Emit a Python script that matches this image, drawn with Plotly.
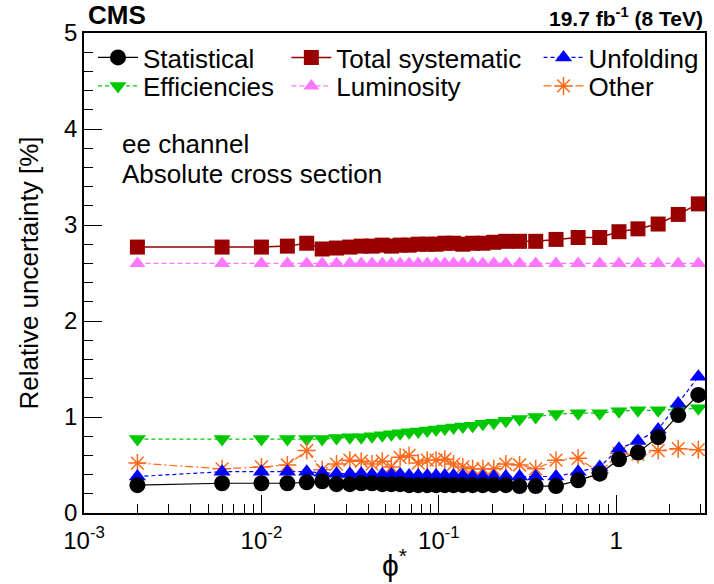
import plotly.graph_objects as go

# phi* bin centres
phistar = [0.002, 0.006, 0.010, 0.014, 0.018, 0.022, 0.0265, 0.0315, 0.0365, 0.042,
           0.048, 0.054, 0.0605, 0.068, 0.0765, 0.086, 0.0965, 0.108, 0.121, 0.1365,
           0.155, 0.177, 0.204, 0.2385, 0.285, 0.3515, 0.4575, 0.6095, 0.8065, 1.0355,
           1.3245, 1.7215, 2.2345, 2.8995]

# relative uncertainties [%]
statistical = [0.29, 0.31, 0.31, 0.31, 0.32, 0.33, 0.30, 0.30, 0.31, 0.31,
               0.30, 0.30, 0.30, 0.29, 0.29, 0.29, 0.29, 0.29, 0.29, 0.29,
               0.29, 0.29, 0.29, 0.29, 0.28, 0.28, 0.28, 0.34, 0.41, 0.56,
               0.63, 0.79, 1.02, 1.23]
total_syst = [2.77, 2.77, 2.77, 2.78, 2.81, 2.75, 2.76, 2.77, 2.78, 2.78,
              2.79, 2.78, 2.79, 2.79, 2.80, 2.80, 2.80, 2.81, 2.81, 2.80,
              2.81, 2.81, 2.82, 2.83, 2.83, 2.83, 2.85, 2.87, 2.87, 2.93,
              2.96, 3.01, 3.11, 3.22]
unfolding = [0.38, 0.43, 0.43, 0.43, 0.43, 0.42, 0.41, 0.41, 0.41, 0.40,
             0.40, 0.40, 0.40, 0.39, 0.39, 0.39, 0.39, 0.39, 0.39, 0.39,
             0.38, 0.38, 0.38, 0.38, 0.38, 0.38, 0.38, 0.43, 0.48, 0.67,
             0.75, 0.87, 1.14, 1.42]
efficiencies = [0.77, 0.77, 0.77, 0.77, 0.77, 0.77, 0.78, 0.79, 0.79, 0.80,
                0.81, 0.82, 0.83, 0.84, 0.85, 0.86, 0.87, 0.88, 0.89, 0.90,
                0.91, 0.93, 0.94, 0.96, 0.98, 1.00, 1.03, 1.04, 1.04, 1.06,
                1.07, 1.07, 1.08, 1.09]
luminosity = [2.6] * 34
other = [0.52, 0.46, 0.48, 0.50, 0.65, 0.45, 0.51, 0.55, 0.54, 0.51,
         0.54, 0.48, 0.58, 0.60, 0.52, 0.55, 0.55, 0.56, 0.51, 0.48,
         0.46, 0.46, 0.46, 0.51, 0.50, 0.46, 0.55, 0.57, 0.42, 0.62,
         0.61, 0.65, 0.67, 0.66]

xtick_vals = [0.001, 0.01, 0.1, 1]
xtick_text = ["10<sup>-3</sup>", "10<sup>-2</sup>", "10<sup>-1</sup>", "1"]

FONT = "Liberation Sans, Arial, Helvetica, sans-serif"

# (name, values, colour, dash, symbol, size, legend id)
series = [
    ("Total systematic", total_syst, "#990000", "solid", "square", 15, "legend2"),
    ("Luminosity", luminosity, "#FF77FF", "5px,3px", "triangle-up", 14, "legend5"),
    ("Efficiencies", efficiencies, "#00C800", "4px,3px", "triangle-down", 15, "legend4"),
    ("Other", other, "#FF6A1A", "8px,3px,2px,3px", "asterisk-open", 15, "legend6"),
    ("Unfolding", unfolding, "#0000FF", "4px,3px", "triangle-up", 15, "legend3"),
    ("Statistical", statistical, "#000000", "solid", "circle", 16, "legend"),
]

fig = go.Figure()
for name, vals, col, dash, sym, size, leg in series:
    marker = dict(symbol=sym, size=size, color=col)
    if sym == "asterisk-open":
        marker["line"] = dict(color=col, width=1.5)
    fig.add_trace(go.Scatter(
        x=phistar, y=vals, name=name, mode="lines+markers",
        line=dict(color=col, width=1.5 if name == "Total systematic" else 1.2, dash=dash),
        marker=marker, legend=leg,
    ))

W, H = 714, 584
ml, mr, mt, mb = 84, 7, 33, 62
pw, ph = W - ml - mr, H - mt - mb


def px(xp):
    return (xp - ml) / pw


def py(yp):
    return (H - mb - yp) / ph


leg_common = dict(font=dict(family=FONT, size=26, color="black"),
                  bgcolor="rgba(0,0,0,0)", itemwidth=40,
                  xanchor="left", yanchor="middle", orientation="h",
                  itemclick=False)
legends = {
    "legend": (93, 58), "legend2": (287, 58), "legend3": (540, 58),
    "legend4": (93, 87), "legend5": (287, 87), "legend6": (540, 87),
}
for key, (lx, ly) in legends.items():
    fig.update_layout({key: dict(leg_common, x=px(lx), y=py(ly))})

fig.update_layout(
    width=W, height=H,
    margin=dict(l=ml, r=mr, t=mt, b=mb),
    paper_bgcolor="white", plot_bgcolor="white",
    font=dict(family=FONT, color="black"),
    showlegend=True,
    xaxis=dict(
        type="log", range=[-3, 0.5], tickvals=xtick_vals, ticktext=xtick_text,
        ticks="inside", ticklen=18, tickwidth=1.2, tickcolor="black",
        showline=True, linecolor="black", linewidth=1.5, mirror=True,
        showgrid=False, zeroline=False, ticklabelstandoff=5,
        tickfont=dict(size=24, family=FONT),
        minor=dict(ticks="inside", ticklen=9, tickwidth=1.2, tickcolor="black",
                   dtick="D1", showgrid=False),
        title=dict(text="ϕ<sup>*</sup>", font=dict(size=30, family=FONT), standoff=2),
    ),
    yaxis=dict(
        range=[0, 5], tickvals=[0, 1, 2, 3, 4, 5],
        ticks="inside", ticklen=18, tickwidth=1.2, tickcolor="black",
        showline=True, linecolor="black", linewidth=1.5, mirror=True,
        showgrid=False, zeroline=False,
        tickfont=dict(size=24, family=FONT),
        minor=dict(ticks="inside", ticklen=9, tickwidth=1.2, tickcolor="black",
                   dtick=0.2, showgrid=False),
        title=dict(text="Relative uncertainty [%]", font=dict(size=26, family=FONT), standoff=18),
    ),
    annotations=[
        dict(text="<b>CMS</b>", x=px(86), y=1.0, xref="paper", yref="paper",
             xanchor="left", yanchor="bottom", showarrow=False, yshift=1,
             font=dict(size=26, family=FONT)),
        dict(text="<b>19.7 fb<sup>-1</sup> (8 TeV)</b>", x=1.0, y=1.0,
             xref="paper", yref="paper", xanchor="right", yanchor="bottom",
             showarrow=False, yshift=1, font=dict(size=21, family=FONT)),
        dict(text="ee channel", x=px(120), y=py(146), xref="paper", yref="paper",
             xanchor="left", yanchor="middle", showarrow=False,
             font=dict(size=26, family=FONT)),
        dict(text="Absolute cross section", x=px(120), y=py(177), xref="paper",
             yref="paper", xanchor="left", yanchor="middle", showarrow=False,
             font=dict(size=26, family=FONT)),
    ],
)

fig.write_html("out.html")
